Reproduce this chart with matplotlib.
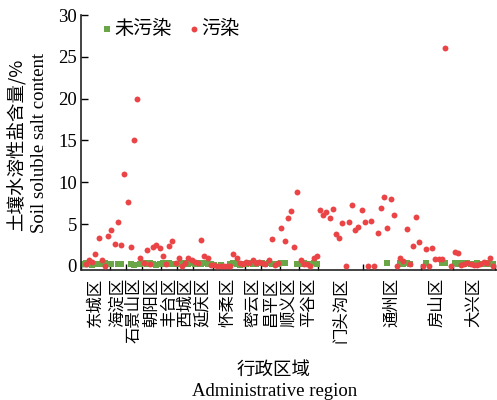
import numpy as np
import matplotlib
matplotlib.use('Agg')
import matplotlib.pyplot as plt

plt.rcParams['font.family'] = ['Liberation Serif', 'Noto Sans CJK SC']

nan = np.nan

districts = ['东城区', '海淀区', '石景山区', '朝阳区', '丰台区', '西城区', '延庆区', '怀柔区',
             '密云区', '昌平区', '顺义区', '平谷区', '门头沟区', '通州区', '房山区', '大兴区']

# soluble salt content of polluted samples, per district, left to right
polluted = [
    [nan, 0.2, 0.7, 0.5, 1.4, 3.4, 0.7, 0.05, 3.6],
    [4.3, 2.6, 5.3, 2.5, 11.0],
    [7.6, 2.3, 15.0, 19.9, 1.0],
    [0.3, 1.9, 0.2, 2.3, 2.5, 2.1],
    [1.2, 0.2, 2.4, 3.0, 0.3],
    [0.9, 0.0, 0.4, 0.9, 0.7],
    [0.5, 0.3, 3.1, 1.2, 0.9, 0.1],
    [0.1, 0.05, 0.05, 0.0, 0.05, 0.0, 1.4, 1.0, 0.4, 0.2],
    [0.5, 0.3, 0.7, 0.4, 0.5],
    [0.3, 0.2, 0.7, 3.2, 0.1, 0.4],
    [4.5, 3.0, 5.7, 6.6, 2.3, 8.9],
    [0.7, 0.2, 0.2, 0.05, 1.0, 1.2],
    [6.7, 6.1, 6.4, 5.7, 6.8, 3.8, 3.3, 5.1, 0.05, 5.3, 7.3, 4.3, 4.7, 6.7],
    [5.3, 0.05, 5.4, 0.05, 3.9, 6.9, 8.2, 4.6, 8.0, 6.1, 0.05, 0.9, 0.6, 4.4, 0.2, 2.4, 5.9, 2.9],
    [0.05, 2.0, 0.0, 2.2, 0.8, 0.8, 0.8, 26.0, nan, 0.0],
    [1.7, 1.6, 0.1, 0.2, 0.4, 0.2, 0.1, 0.1, 0.2, 0.5, 0.4, 1.0, 0.05],
]

# unpolluted samples (nan = no sample at that position)
clean = [
    [0.2, 0.3, 0.2, 0.15, 0.2, 0.25, 0.2, 0.3, 0.2],
    [0.2, nan, 0.2, 0.2, nan],
    [nan, 0.2, 0.1, nan, 0.2],
    [0.3, 0.2, 0.3, 0.2, 0.15, 0.2],
    [0.3, 0.2, 0.3, 0.2, 0.25],
    [0.2, 0.3, 0.3, 0.2, 0.3],
    [0.2, 0.3, 0.2, 0.3, 0.2, 0.2],
    [0.1, nan, 0.1, nan, nan, 0.2, 0.3, 0.2, 0.15, 0.2],
    [0.2, 0.3, 0.25, 0.2, 0.3],
    [0.3, 0.2, 0.3, 0.2, 0.25, 0.2],
    [0.3, 0.3, nan, nan, nan, 0.2],
    [0.2, 0.3, 0.2, 0.2, 0.3, 0.2],
    [nan] * 14,
    [nan] * 7 + [0.3, nan, nan, nan, 0.3, 0.2, 0.3, 0.2, nan, nan, nan],
    [nan, 0.3, nan, nan, nan, nan, 0.3, 0.3, nan, nan],
    [0.3, 0.2, 0.3, 0.2, 0.3, 0.2, 0.2, 0.3, 0.2, 0.2, 0.3, 0.2, 0.2],
]

counts = [len(p) for p in polluted]
edges = np.concatenate([[0], np.cumsum(counts)])
centers = (edges[:-1] + edges[1:]) / 2

xs = np.concatenate([edges[k] + np.arange(n) + 0.5 for k, n in enumerate(counts)])
y_pol = np.concatenate(polluted)
y_cln = np.concatenate(clean)

cjk = ['Noto Sans CJK SC']

fig = plt.figure(figsize=(4.97, 4.0), dpi=100)
ax = fig.add_axes([81 / 497, 1 - 269.5 / 400, 416 / 497, 254.5 / 400])

ax.scatter(xs, y_cln, marker='s', s=13, color='#6aa547', linewidths=0, label='未污染', zorder=2)
ax.scatter(xs, y_pol, marker='o', s=18, color='#ea4446', linewidths=0, label='污染', zorder=3)

ax.set_xlim(0, edges[-1] + 0.7)
ax.set_ylim(-0.42, 30)
ax.set_yticks(range(0, 31, 5))
ax.tick_params(axis='y', direction='in', length=5, width=1, labelsize=13.5, pad=3)

ax.set_xticks(edges)
ax.set_xticklabels([])
ax.tick_params(axis='x', which='major', direction='in', length=4, width=1)
ax.set_xticks(centers, minor=True)
ax.set_xticklabels(districts, minor=True, rotation=90, fontsize=11.8, family=cjk)
ax.tick_params(axis='x', which='minor', length=0, pad=6)

for s in ['top', 'right']:
    ax.spines[s].set_visible(False)
for s in ['left', 'bottom']:
    ax.spines[s].set_linewidth(1.2)
    ax.spines[s].set_color('#222222')

fig.text(17 / 497, 1 - 145 / 400, '土壤水溶性盐含量/%', rotation=90, ha='center', va='center',
         fontsize=13.3, family=cjk)
fig.text(40 / 497, 1 - 143 / 400, 'Soil soluble salt content', rotation=90, ha='center',
         va='center', fontsize=13.5)
fig.text(274 / 497, 1 - 370 / 400, '行政区域', ha='center', va='center', fontsize=13.3,
         family=cjk)
fig.text(275 / 497, 1 - 391 / 400, 'Administrative region', ha='center', va='center',
         fontsize=13.5)

ax.legend(loc='upper left', bbox_to_anchor=(92 / 497, 1 - 8 / 400), bbox_transform=fig.transFigure,
          ncol=2, frameon=False, handlelength=0.6, handletextpad=0.05, columnspacing=0.9,
          borderpad=0, prop={'family': cjk, 'size': 13.8})

fig.savefig('out.png', dpi=100)
